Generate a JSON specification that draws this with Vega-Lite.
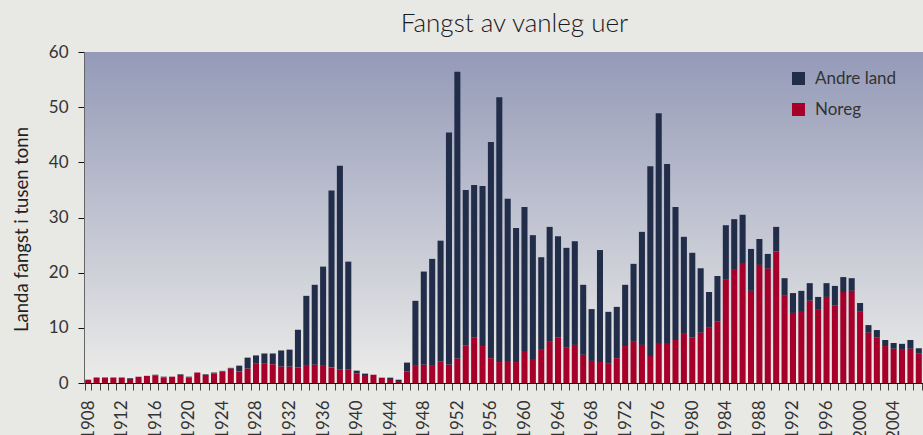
{
 "$schema": "https://vega.github.io/schema/vega-lite/v6.json",
 "width": 839,
 "height": 331,
 "autosize": {"type": "none"},
 "padding": {"left": 84, "top": 52, "right": 0, "bottom": 52},
 "background": "#e8e8e4",
 "title": {"text": "Fangst av vanleg uer", "fontSize": 26, "font": "Lato", "fontWeight": 300, "color": "#1a1a1a", "offset": 6, "dx": 11, "anchor": "middle"},
 "view": {"stroke": null, "fill": {"gradient": "linear", "x1": 0, "y1": 0, "x2": 0, "y2": 1, "stops": [{"offset": 0, "color": "#949ab8"}, {"offset": 1, "color": "#ecece9"}]}},
 "config": {"font": "Lato"},
 "data": {"values": [
  {"year":1908,"Noreg":0.6,"Andre land":0},
  {"year":1909,"Noreg":1.0,"Andre land":0},
  {"year":1910,"Noreg":1.0,"Andre land":0},
  {"year":1911,"Noreg":1.0,"Andre land":0},
  {"year":1912,"Noreg":1.0,"Andre land":0},
  {"year":1913,"Noreg":0.72,"Andre land":0.13},
  {"year":1914,"Noreg":1.15,"Andre land":0},
  {"year":1915,"Noreg":1.3,"Andre land":0},
  {"year":1916,"Noreg":1.4,"Andre land":0.1},
  {"year":1917,"Noreg":1.0,"Andre land":0.15},
  {"year":1918,"Noreg":1.15,"Andre land":0},
  {"year":1919,"Noreg":1.45,"Andre land":0.12},
  {"year":1920,"Noreg":1.0,"Andre land":0.15},
  {"year":1921,"Noreg":1.9,"Andre land":0},
  {"year":1922,"Noreg":1.45,"Andre land":0.12},
  {"year":1923,"Noreg":1.75,"Andre land":0.15},
  {"year":1924,"Noreg":2.1,"Andre land":0.1},
  {"year":1925,"Noreg":2.6,"Andre land":0.15},
  {"year":1926,"Noreg":2.1,"Andre land":1.05},
  {"year":1927,"Noreg":2.6,"Andre land":2.0},
  {"year":1928,"Noreg":3.6,"Andre land":1.4},
  {"year":1929,"Noreg":3.6,"Andre land":1.75},
  {"year":1930,"Noreg":3.4,"Andre land":1.95},
  {"year":1931,"Noreg":2.95,"Andre land":2.95},
  {"year":1932,"Noreg":2.95,"Andre land":3.1},
  {"year":1933,"Noreg":2.8,"Andre land":6.85},
  {"year":1934,"Noreg":3.1,"Andre land":12.7},
  {"year":1935,"Noreg":3.3,"Andre land":14.5},
  {"year":1936,"Noreg":3.1,"Andre land":18.0},
  {"year":1937,"Noreg":2.8,"Andre land":32.1},
  {"year":1938,"Noreg":2.5,"Andre land":36.9},
  {"year":1939,"Noreg":2.4,"Andre land":19.6},
  {"year":1940,"Noreg":1.7,"Andre land":0.54},
  {"year":1941,"Noreg":1.45,"Andre land":0.25},
  {"year":1942,"Noreg":1.5,"Andre land":0},
  {"year":1943,"Noreg":0.97,"Andre land":0},
  {"year":1944,"Noreg":0.73,"Andre land":0.24},
  {"year":1945,"Noreg":0.36,"Andre land":0.24},
  {"year":1946,"Noreg":2.05,"Andre land":1.65},
  {"year":1947,"Noreg":3.1,"Andre land":11.8},
  {"year":1948,"Noreg":3.3,"Andre land":16.9},
  {"year":1949,"Noreg":3.1,"Andre land":19.4},
  {"year":1950,"Noreg":3.85,"Andre land":21.95},
  {"year":1951,"Noreg":3.3,"Andre land":42.1},
  {"year":1952,"Noreg":4.4,"Andre land":52.0},
  {"year":1953,"Noreg":6.75,"Andre land":28.25},
  {"year":1954,"Noreg":8.3,"Andre land":27.6},
  {"year":1955,"Noreg":6.7,"Andre land":29.0},
  {"year":1956,"Noreg":4.5,"Andre land":39.2},
  {"year":1957,"Noreg":3.8,"Andre land":48.0},
  {"year":1958,"Noreg":4.0,"Andre land":29.4},
  {"year":1959,"Noreg":3.8,"Andre land":24.3},
  {"year":1960,"Noreg":5.8,"Andre land":26.1},
  {"year":1961,"Noreg":4.35,"Andre land":22.45},
  {"year":1962,"Noreg":6.0,"Andre land":16.8},
  {"year":1963,"Noreg":7.6,"Andre land":20.7},
  {"year":1964,"Noreg":8.3,"Andre land":18.3},
  {"year":1965,"Noreg":6.5,"Andre land":18.0},
  {"year":1966,"Noreg":6.9,"Andre land":18.8},
  {"year":1967,"Noreg":5.1,"Andre land":12.7},
  {"year":1968,"Noreg":4.0,"Andre land":9.4},
  {"year":1969,"Noreg":3.8,"Andre land":20.3},
  {"year":1970,"Noreg":3.6,"Andre land":9.3},
  {"year":1971,"Noreg":4.5,"Andre land":9.3},
  {"year":1972,"Noreg":6.7,"Andre land":11.1},
  {"year":1973,"Noreg":7.6,"Andre land":14.0},
  {"year":1974,"Noreg":6.9,"Andre land":20.5},
  {"year":1975,"Noreg":4.9,"Andre land":34.4},
  {"year":1976,"Noreg":7.25,"Andre land":41.65},
  {"year":1977,"Noreg":7.25,"Andre land":32.45},
  {"year":1978,"Noreg":7.8,"Andre land":24.1},
  {"year":1979,"Noreg":8.9,"Andre land":17.6},
  {"year":1980,"Noreg":8.3,"Andre land":15.3},
  {"year":1981,"Noreg":9.1,"Andre land":11.7},
  {"year":1982,"Noreg":10.0,"Andre land":6.5},
  {"year":1983,"Noreg":11.1,"Andre land":8.3},
  {"year":1984,"Noreg":18.7,"Andre land":9.9},
  {"year":1985,"Noreg":20.5,"Andre land":9.2},
  {"year":1986,"Noreg":21.75,"Andre land":8.75},
  {"year":1987,"Noreg":16.7,"Andre land":7.6},
  {"year":1988,"Noreg":21.4,"Andre land":4.7},
  {"year":1989,"Noreg":20.7,"Andre land":2.7},
  {"year":1990,"Noreg":23.9,"Andre land":4.4},
  {"year":1991,"Noreg":15.8,"Andre land":3.2},
  {"year":1992,"Noreg":12.7,"Andre land":3.6},
  {"year":1993,"Noreg":13.05,"Andre land":3.65},
  {"year":1994,"Noreg":14.9,"Andre land":3.2},
  {"year":1995,"Noreg":13.4,"Andre land":2.2},
  {"year":1996,"Noreg":15.6,"Andre land":2.5},
  {"year":1997,"Noreg":14.1,"Andre land":3.5},
  {"year":1998,"Noreg":16.5,"Andre land":2.7},
  {"year":1999,"Noreg":16.7,"Andre land":2.3},
  {"year":2000,"Noreg":12.9,"Andre land":1.6},
  {"year":2001,"Noreg":9.1,"Andre land":1.4},
  {"year":2002,"Noreg":8.3,"Andre land":1.3},
  {"year":2003,"Noreg":6.7,"Andre land":1.1},
  {"year":2004,"Noreg":6.2,"Andre land":1.05},
  {"year":2005,"Noreg":6.0,"Andre land":1.1},
  {"year":2006,"Noreg":6.2,"Andre land":1.6},
  {"year":2007,"Noreg":5.3,"Andre land":1.0}
 ]},
 "transform": [{"fold": ["Andre land", "Noreg"], "as": ["serie", "verdi"]}],
 "mark": {"type": "bar"},
 "encoding": {
  "x": {"field": "year", "type": "ordinal",
        "scale": {"paddingInner": 0.28, "paddingOuter": 0.14},
        "axis": {"title": null, "labelAngle": -90, "labelExpr": "datum.value % 4 == 0 ? datum.label : ''",
                 "tickBand": "extent", "tickSize": 7, "tickColor": "#444", "domainColor": "#111",
                 "labelPadding": 10, "labelFontSize": 17, "labelColor": "#333", "labelFont": "Lato", "labelOverlap": false}},
  "y": {"field": "verdi", "type": "quantitative", "stack": "zero",
        "scale": {"domain": [0, 60], "nice": false},
        "axis": {"title": "Landa fangst i tusen tonn", "values": [0, 10, 20, 30, 40, 50, 60], "grid": false,
                 "tickSize": 6, "tickColor": "#111", "domainColor": "#666", "labelPadding": 10,
                 "labelFontSize": 17, "labelColor": "#333", "labelFont": "Lato",
                 "titleFontSize": 18.5, "titleFontWeight": "normal", "titleColor": "#222", "titleFont": "Lato", "titlePadding": 17, "titleY": 177}},
  "color": {"field": "serie", "type": "nominal",
            "scale": {"domain": ["Andre land", "Noreg"], "range": ["#222d4a", "#a6002a"]},
            "legend": {"title": null, "orient": "none", "legendX": 706, "legendY": 18, "symbolType": "square",
                       "symbolSize": 169, "symbolStrokeWidth": 0, "symbolOpacity": 1, "labelFontSize": 17, "labelColor": "#333",
                       "labelFont": "Lato", "rowPadding": 13, "labelOffset": 8}},
  "order": {"field": "serie", "sort": "descending"}
 }
}
